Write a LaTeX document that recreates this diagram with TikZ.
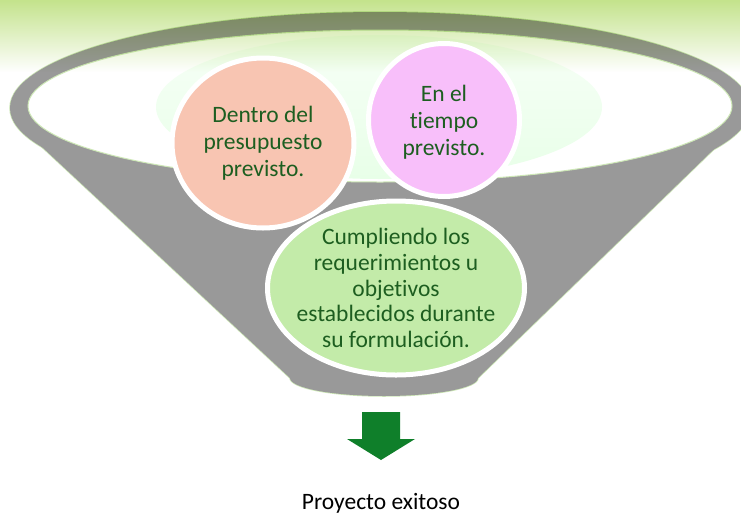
\documentclass[tikz,border=0pt]{standalone}
\usepackage{fontspec}
\setmainfont{Carlito}[Ligatures=NoCommon]
\usetikzlibrary{fadings,shapes.geometric}
\tikzfading[name=fadedown, top color=transparent!0, bottom color=transparent!100]
\definecolor{funnelgray}{HTML}{999999}
\definecolor{edgegreen}{HTML}{CDE7B6}
\definecolor{bandgreen}{HTML}{C4E38C}
\definecolor{salmonfill}{HTML}{F8C5B2}
\definecolor{pinkfill}{HTML}{F8BFFA}
\definecolor{greenfill}{HTML}{C3EBA9}
\definecolor{txtgreen}{HTML}{1D5E20}
\definecolor{arrowgreen}{HTML}{0F7F2A}
\tikzset{
  bubble/.style={ellipse, draw=white, line width=5pt, inner sep=-40pt, align=center,
    text=txtgreen, font=\fontsize{23.5}{27}\selectfont},
}
\begin{document}
\begin{tikzpicture}[x=1pt,y=-1pt]
\useasboundingbox (0,0) rectangle (741,517);
\begin{scope}
\clip (0,0) rectangle (741,517);
\fill[white] (0,0) rectangle (741,517);
% funnel outline
\draw[edgegreen, line width=1.5pt] (380,108) ellipse [x radius=370, y radius=96];
\draw[edgegreen, line width=1.5pt] (13,120) -- (290,378) .. controls (290,387.9) and (332.1,396) .. (384,396) .. controls (435.9,396) and (478,387.9) .. (478,378) -- (744,120);
% funnel body
\fill[funnelgray] (380,108) ellipse [x radius=370, y radius=96];
\fill[funnelgray] (13,120) -- (290,378) .. controls (290,387.9) and (332.1,396) .. (384,396) .. controls (435.9,396) and (478,387.9) .. (478,378) -- (744,120) -- cycle;
% mouth
\filldraw[fill=white, draw=edgegreen, line width=1pt] (380,106) ellipse [x radius=352, y radius=76];
\shade[top color=green!3!white, bottom color=green!9!white] (379,107) ellipse [x radius=223, y radius=72];
% top band (multiplied over the funnel)
\begin{scope}[blend mode=multiply]
\fill[bandgreen, path fading=fadedown] (0,0) rectangle (741,72);
\end{scope}
\end{scope}
% bubbles
\node[bubble, fill=salmonfill, minimum width=182pt, minimum height=170pt] (presupuesto) at (263,143) {Dentro del\\presupuesto\\previsto.};
\node[bubble, fill=pinkfill, minimum width=151pt, minimum height=153pt] (tiempo) at (444,120) {};
\node[text=txtgreen, align=center, font=\fontsize{23.5}{27}\selectfont] (tiempotxt) at (444,122) {En el\\tiempo\\previsto.};
\node[bubble, fill=greenfill, minimum width=257pt, minimum height=174pt, font=\fontsize{23.5}{25.8}\selectfont] (requisitos) at (396,288) {Cumpliendo los\\requerimientos u\\objetivos\\establecidos durante\\su formulación.};
% arrow
\fill[arrowgreen] (362,412) -- (400,412) -- (400,439) -- (415,439) -- (381,460) -- (347,439) -- (362,439) -- cycle;
\node[font=\fontsize{23.5}{26}\selectfont, text=black] (resultado) at (381,503) {Proyecto exitoso};
\end{tikzpicture}
\end{document}
